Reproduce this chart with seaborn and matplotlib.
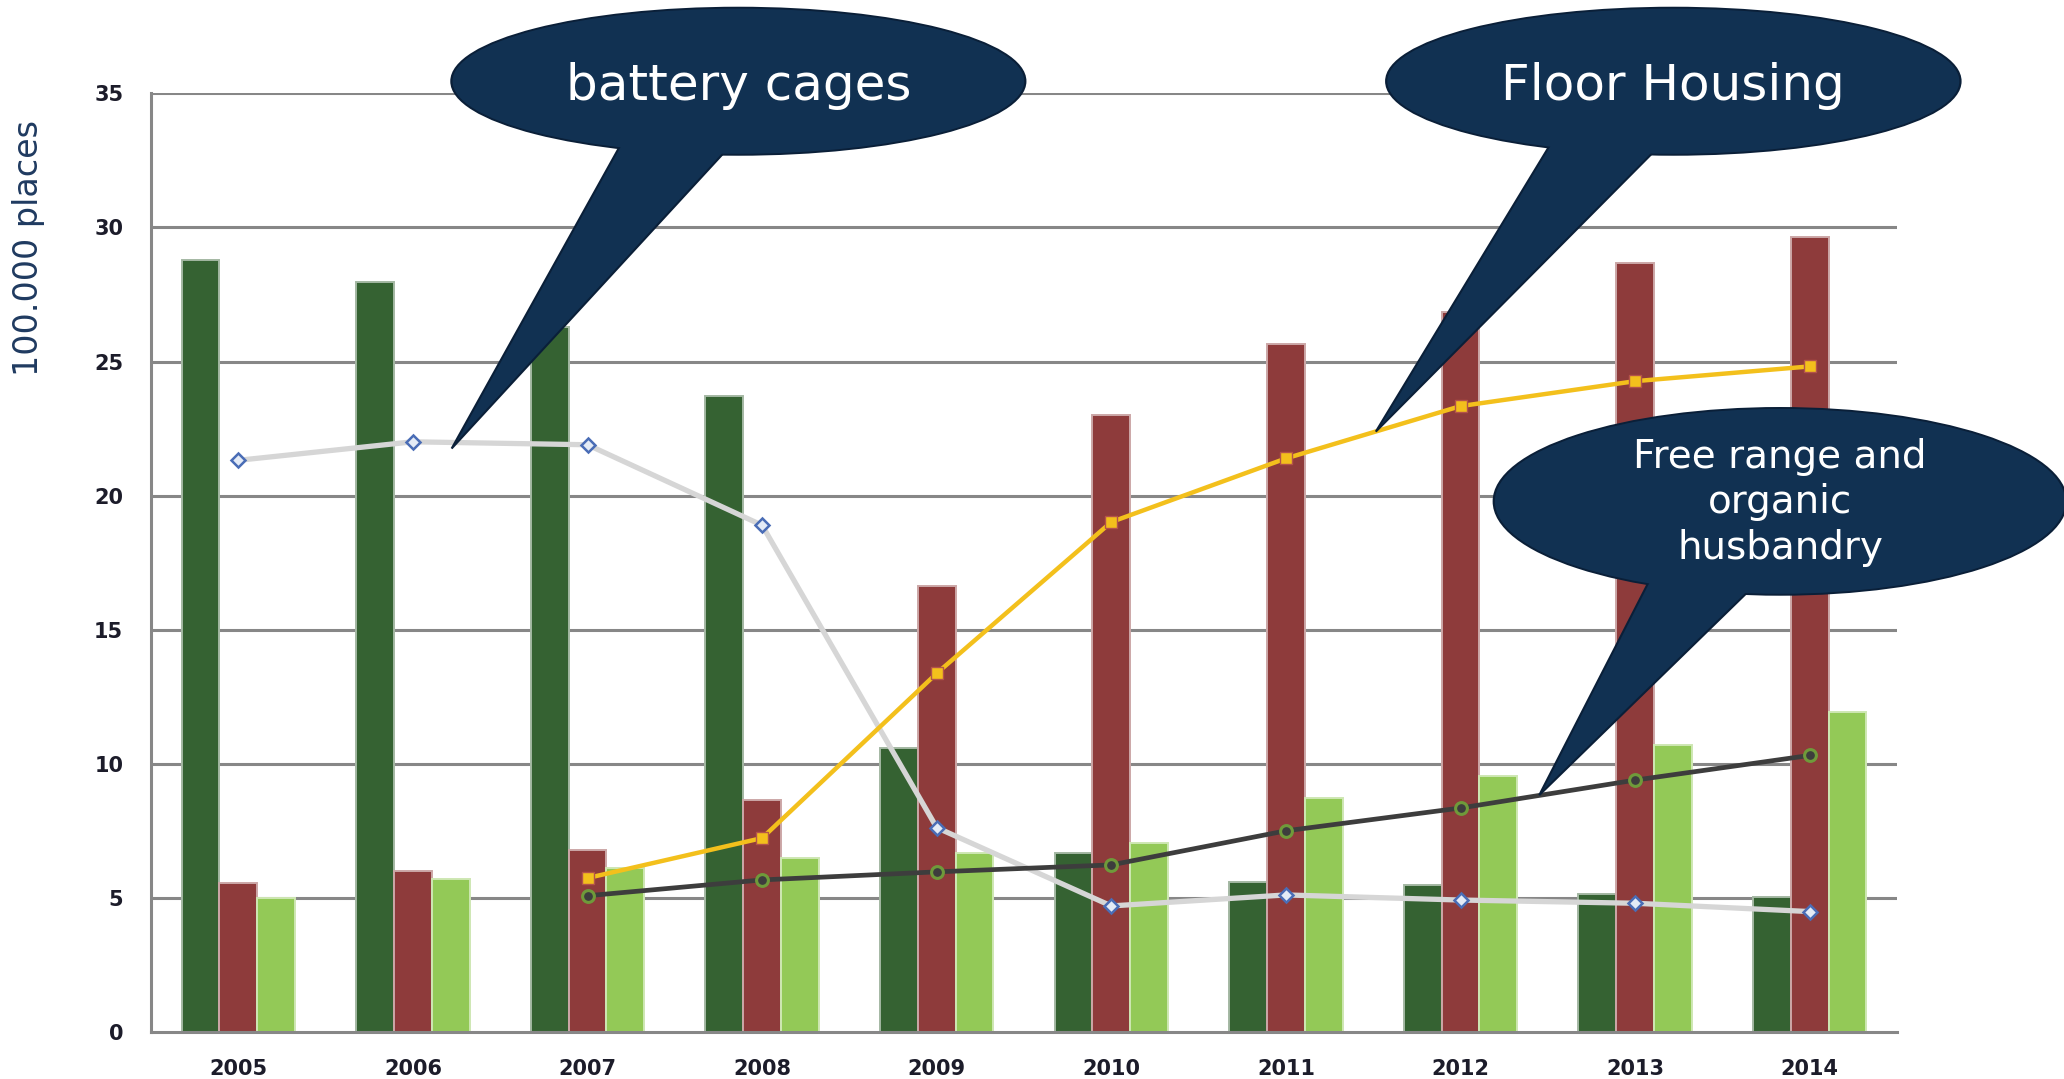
import numpy as np
import pandas as pd
import matplotlib
matplotlib.use("Agg")
import matplotlib.pyplot as plt
import matplotlib.colors as mcolors
from matplotlib.patches import Ellipse, Polygon
from matplotlib.ticker import FixedLocator, NullFormatter
import seaborn as sns

# ---- data (in 100.000 places) ----
years = ["2005", "2006", "2007", "2008", "2009", "2010", "2011", "2012", "2013", "2014"]
bar_cages = [28.8, 27.95, 26.3, 23.7, 10.6, 6.7, 5.6, 5.5, 5.15, 5.05]
bar_floor = [5.55, 6.02, 6.8, 8.65, 16.65, 23.0, 25.65, 26.85, 28.68, 29.65]
bar_free = [5.02, 5.72, 6.12, 6.5, 6.68, 7.05, 8.75, 9.55, 10.72, 11.94]
line_cages = [21.32, 22.01, 21.9, 18.9, 7.63, 4.71, 5.12, 4.93, 4.81, 4.5]
line_floor = [np.nan, np.nan, 5.75, 7.24, 13.38, 19.02, 21.39, 23.34, 24.27, 24.82]
line_free = [np.nan, np.nan, 5.09, 5.68, 5.98, 6.24, 7.51, 8.36, 9.4, 10.32]
series_names = ["Battery cages", "Floor housing", "Free range and organic"]
y_ticks = [0, 5, 10, 15, 20, 25, 30, 35]
y_label = "100.000 places"
callout_texts = ["battery cages", "Floor Housing", "Free range and\norganic\nhusbandry"]

bar_colors = ["#356232", "#8e3b3b", "#93c957"]
navy = "#113152"
navy_edge = "#0a1f38"
grid_grey = "#878787"
label_dark = "#1c1c2a"

df = pd.DataFrame({
    "year": years * 3,
    "value": bar_cages + bar_floor + bar_free,
    "series": sum([[s] * len(years) for s in series_names], []),
})

W, H = 2064, 1079
fig = plt.figure(figsize=(W / 100, H / 100), dpi=100)
sns.set_style("white")
ax = fig.add_axes([151 / W, (H - 1032.3) / H, (1897 - 151) / W, (1032.3 - 93.3) / H])

sns.barplot(data=df, x="year", y="value", hue="series", order=years,
            hue_order=series_names, palette=bar_colors, width=0.65,
            saturation=1, legend=False, ax=ax, zorder=2)

# light rim around each bar
for p in ax.patches:
    fc = np.array(mcolors.to_rgb(p.get_facecolor()))
    p.set_edgecolor(tuple(fc * 0.45 + 0.55))
    p.set_linewidth(1.4)

xpos = np.arange(len(years))
sns.lineplot(x=xpos, y=line_cages, ax=ax, color="#d6d6d6", lw=3.8, zorder=4,
             marker="D", markersize=7.5, markerfacecolor="#e4ebf6",
             markeredgecolor="#4a6db6", markeredgewidth=1.8)
sns.lineplot(x=xpos, y=line_floor, ax=ax, color="#f3c01c", lw=3.2, zorder=5,
             marker="s", markersize=8.5, markerfacecolor="#f3c01c",
             markeredgecolor="#b3534a", markeredgewidth=1.0)
sns.lineplot(x=xpos, y=line_free, ax=ax, color="#3d3d3d", lw=3.4, zorder=5,
             marker="o", markersize=8.5, markerfacecolor="#3d3d3d",
             markeredgecolor="#6f9a3a", markeredgewidth=2.2)

# axes styling
ax.set_xlim(-0.5, len(years) - 0.5)
ax.set_ylim(0, 35)
ax.set_yticks(y_ticks)
ax.set_yticklabels([str(t) for t in y_ticks])
ax.set_xticks(xpos)
ax.set_xticklabels(years)
ax.xaxis.set_minor_locator(FixedLocator(np.arange(-0.5, len(years), 1.0)))
ax.xaxis.set_minor_formatter(NullFormatter())
ax.tick_params(axis="x", which="major", length=0, pad=19)
ax.tick_params(axis="x", which="minor", length=8, width=2, color=grid_grey, direction="out")
ax.tick_params(axis="y", length=8, width=2, color=grid_grey, direction="out", pad=12)
for lab in ax.get_xticklabels() + ax.get_yticklabels():
    lab.set_fontsize(15)
    lab.set_fontweight("bold")
    lab.set_color(label_dark)
ax.set_xlabel("")
ax.set_ylabel("")
ax.grid(False)
for yv in y_ticks[1:]:
    ax.axhline(yv, color=grid_grey, lw=2.2, zorder=1)
for side in ["top", "right"]:
    ax.spines[side].set_visible(False)
for side in ["left", "bottom"]:
    ax.spines[side].set_color(grid_grey)
    ax.spines[side].set_linewidth(2.2)

fig.text(28.5 / W, 1 - 248 / H, y_label, rotation=90, ha="center", va="center",
         fontsize=24, color="#1f3a60", family="DejaVu Sans")


def callout(center, size, tip, base_l, base_r, text, fs, text_y, lsp=1.2):
    ell_kw = dict(facecolor=navy, clip_on=False)
    ax.add_patch(Ellipse(center, size[0], size[1], edgecolor=navy_edge, lw=2.0,
                         zorder=10, **ell_kw))
    # push the base of the tail into the ellipse so the joint is hidden
    bl = (base_l[0], base_l[1] + 0.6)
    br = (base_r[0], base_r[1] + 0.6)
    ax.add_patch(Polygon([bl, tip, br], closed=True, facecolor=navy,
                         edgecolor=navy_edge, lw=1.5, zorder=11, clip_on=False))
    ax.add_patch(Ellipse(center, size[0] - 0.01, size[1] - 0.04, edgecolor="none",
                         zorder=12, **ell_kw))
    ax.text(center[0], text_y, text, ha="center", va="baseline", fontsize=fs,
            color="white", zorder=13, linespacing=lsp, family="DejaVu Sans",
            clip_on=False)


callout(center=(2.864, 35.45), size=(3.284, 5.45), tip=(1.222, 21.76),
        base_l=(2.23, 32.95), base_r=(2.86, 32.74), text=callout_texts[0],
        fs=36, text_y=34.75)
callout(center=(8.219, 35.45), size=(3.286, 5.45), tip=(6.515, 22.39),
        base_l=(7.557, 32.95), base_r=(8.186, 32.74), text=callout_texts[1],
        fs=36, text_y=34.75)
callout(center=(8.83, 19.79), size=(3.276, 6.93), tip=(7.451, 8.84),
        base_l=(8.117, 16.68), base_r=(8.722, 16.30), text=callout_texts[2],
        fs=28, text_y=17.65, lsp=1.25)

fig.savefig("out.png", dpi=100, facecolor="white")
